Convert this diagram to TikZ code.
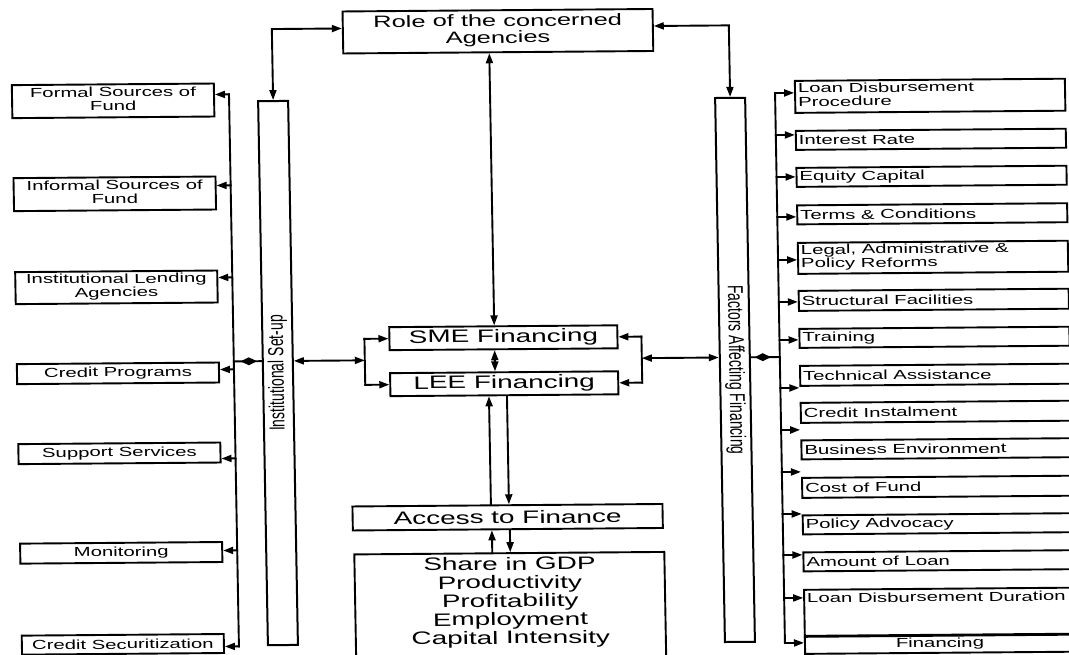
\documentclass[tikz,border=0pt]{standalone}
\usepackage{fontspec}
\usepackage{graphicx}
\setmainfont{Liberation Sans}
\setsansfont{Liberation Sans}
\usetikzlibrary{arrows.meta,calc}

% widened lettering (horizontal text) and its rotated counterpart
\newcommand\wide[1]{\scalebox{1.55}[1]{#1}}
\newcommand\tall[1]{\scalebox{1}[1.55]{#1}}
\newcommand\boxfont{\fontsize{13.1}{13.5}\selectfont}
\newcommand\bigfont{\fontsize{18}{18}\selectfont}
\newcommand\rolefont{\fontsize{16.4}{16}\selectfont}
\newcommand\barfont{\fontsize{14}{14}\selectfont}
% left-aligned label filling a factor box
\newcommand\rlabel[1]{\makebox[270pt][l]{\hspace{3pt}\wide{#1}}}

\tikzset{
  box/.style={draw, line width=1.9pt, rectangle, inner sep=0pt, font=\boxfont},
  lbox/.style={box, minimum width=202pt},
  rbox/.style={box, minimum width=270pt},
  bar/.style={draw, line width=2pt, rectangle, inner sep=0pt,
              minimum width=544pt, minimum height=30pt, font=\barfont},
  link/.style={line width=1.9pt, line cap=rect},
  tip/.tip={Triangle[length=10pt,width=7pt]},
  arr/.style={link, -tip},
  twoway/.style={link, tip-tip},
}

\begin{document}
\begin{tikzpicture}[x=1pt,y=1pt]
\useasboundingbox (0,0) rectangle (1069,-655);
\fill[white] (0,0) rectangle (1069,-655);

\begin{scope}[transform canvas={cm={1,0.008,-0.018,1,(-6.66pt,-4.27pt)}}]

% ---------- central column ----------
\node[box, font=\rolefont, minimum width=310pt, minimum height=42pt] (role) at (504,-31)
  {\wide{\begin{tabular}{@{}c@{}}Role of the concerned\\Agencies\end{tabular}}};
\node[box, font=\bigfont, minimum width=228pt, minimum height=23pt] (sme) at (504,-337.5)
  {\wide{SME Financing}};
\node[box, font=\bigfont, minimum width=228pt, minimum height=23pt] (lee) at (504,-383.5)
  {\wide{LEE Financing}};
\node[box, font=\bigfont, minimum width=310pt, minimum height=24pt] (access) at (505,-517)
  {\wide{Access to Finance}};
\node[box, font=\bigfont, anchor=north, inner ysep=4pt, minimum width=310pt,
      text height=13pt, text depth=110pt] (share) at (506,-552)
  {\wide{\begin{tabular}[t]{@{}c@{}}Share in GDP\\Productivity\\Profitability\\Employment\\Capital Intensity\end{tabular}}};

% ---------- vertical bars ----------
\node[bar, rotate=90] (instbar) at (278,-371) {\tall{Institutional Set-up}};
\node[bar, rotate=-90] (facbar) at (735,-371.5) {\tall{Factors Affecting Financing}};

% ---------- institutional set-up items ----------
\node[lbox, minimum height=33pt] (formal) at (118,-97.5)
  {\wide{\begin{tabular}{@{}c@{}}Formal Sources of\\Fund\end{tabular}}};
\node[lbox, minimum height=33pt] (informal) at (118,-190.5)
  {\wide{\begin{tabular}{@{}c@{}}Informal Sources of\\Fund\end{tabular}}};
\node[lbox, minimum height=32pt] (inst) at (118,-284)
  {\wide{\begin{tabular}{@{}c@{}}Institutional Lending\\Agencies\end{tabular}}};
\node[lbox, minimum height=20pt] (cprog) at (118,-370) {\wide{Credit Programs}};
\node[lbox, minimum height=20pt] (support) at (118,-450) {\wide{Support Services}};
\node[lbox, minimum height=20pt] (monitor) at (118,-549.5) {\wide{Monitoring}};
\node[lbox, minimum height=19pt] (csec) at (118,-641) {\wide{Credit Securitization}};

% ---------- financing factors ----------
\node[rbox, minimum height=32pt] (loanproc) at (935,-99)
  {\rlabel{\begin{tabular}{@{}l@{}}Loan Disbursement\\Procedure\end{tabular}}};
\node[rbox, minimum height=19pt] (interest) at (935,-142.5) {\rlabel{Interest Rate}};
\node[rbox, minimum height=19pt] (equity) at (935,-179.5) {\rlabel{Equity Capital}};
\node[rbox, minimum height=19pt] (terms) at (935,-217) {\rlabel{Terms \& Conditions}};
\node[rbox, minimum height=31pt] (legal) at (935,-260.5)
  {\rlabel{\begin{tabular}{@{}l@{}}Legal, Administrative \&\\Policy Reforms\end{tabular}}};
\node[rbox, minimum height=20pt] (struct) at (935,-303) {\rlabel{Structural Facilities}};
\node[rbox, minimum height=19pt] (training) at (935,-340.5) {\rlabel{Training}};
\node[rbox, minimum height=20pt] (tech) at (935,-378) {\rlabel{Technical Assistance}};
\node[rbox, minimum height=20pt] (credinst) at (935,-415) {\rlabel{Credit Instalment}};
\node[rbox, minimum height=19pt] (busenv) at (935,-452) {\rlabel{Business Environment}};
\node[rbox, minimum height=20pt] (cost) at (935,-490) {\rlabel{Cost of Fund}};
\node[rbox, minimum height=19pt] (policy) at (935,-527) {\rlabel{Policy Advocacy}};
\node[rbox, minimum height=19pt] (amount) at (935,-564) {\rlabel{Amount of Loan}};
\node[rbox, anchor=north, inner ysep=2pt, text height=11pt, text depth=32pt] (loandur) at (935,-591)
  {\rlabel{Loan Disbursement Duration}};
\node[rbox, minimum height=18pt] (financing) at (935,-647) {\wide{Financing}};

% ---------- links to the agencies box ----------
\draw[twoway] (instbar.east) |- (role.west |- 0,-27);
\draw[twoway] (facbar.west) |- (role.east |- 0,-27);
\draw[twoway] (role.south -| 495,0) -- (sme.north -| 495,0);
\draw[twoway] (sme.south -| 495,0) -- (lee.north -| 495,0);

% ---------- bracket between the set-up bar and the financing boxes ----------
\coordinate (lbTop) at (365,-337.5);
\coordinate (lbBot) at (365,-383.5);
\draw[link] (lbTop) -- (lbBot);
\draw[arr] (lbTop) -- (sme.west);
\draw[arr] (lbBot) -- (lee.west);
\draw[twoway] (instbar.south |- 0,-359) -- (365,-359);

\coordinate (rbTop) at (642,-337.5);
\coordinate (rbBot) at (642,-383.5);
\draw[link] (rbTop) -- (rbBot);
\draw[arr] (rbTop) -- (sme.east);
\draw[arr] (rbBot) -- (lee.east);
\draw[twoway] (642,-359) -- (facbar.south |- 0,-359);

% ---------- access to finance ----------
\draw[arr] (access.north -| 488.5,0) -- (lee.south -| 488.5,0);
\draw[arr] (lee.south -| 506.5,0) -- (access.north -| 506.5,0);
\draw[arr] (share.north -| 489,0) -- (access.south -| 489,0);
\draw[arr] (access.south -| 507,0) -- (share.north -| 507,0);

% ---------- left distribution spine ----------
\draw[link] (234,-92) -- (234,-644);
\foreach \n/\y in {formal/92, informal/183, inst/275, cprog/367,
                   support/456, monitor/548, csec/644}
  \draw[arr] (234,-\y) -- (\n.east |- 0,-\y);
\draw[link] (234,-359) -- (instbar.north |- 0,-359);
\fill (241,-359) -- (249,-355) -- (257,-359) -- (249,-363) -- cycle;

% ---------- right distribution spine ----------
\draw[link] (780,-95) -- (780,-645);
\foreach \n/\y in {loanproc/95, interest/137, equity/179, terms/219, legal/262,
                   struct/304, training/342, tech/390, credinst/432, busenv/474,
                   policy/516, amount/557, loandur/600, financing/645}
  \draw[arr] (780,-\y) -- (\n.west |- 0,-\y);
\draw[link] (facbar.north |- 0,-359) -- (780,-359);
\fill (755,-359) -- (763,-355) -- (771,-359) -- (763,-363) -- cycle;

\end{scope}
\end{tikzpicture}
\end{document}
